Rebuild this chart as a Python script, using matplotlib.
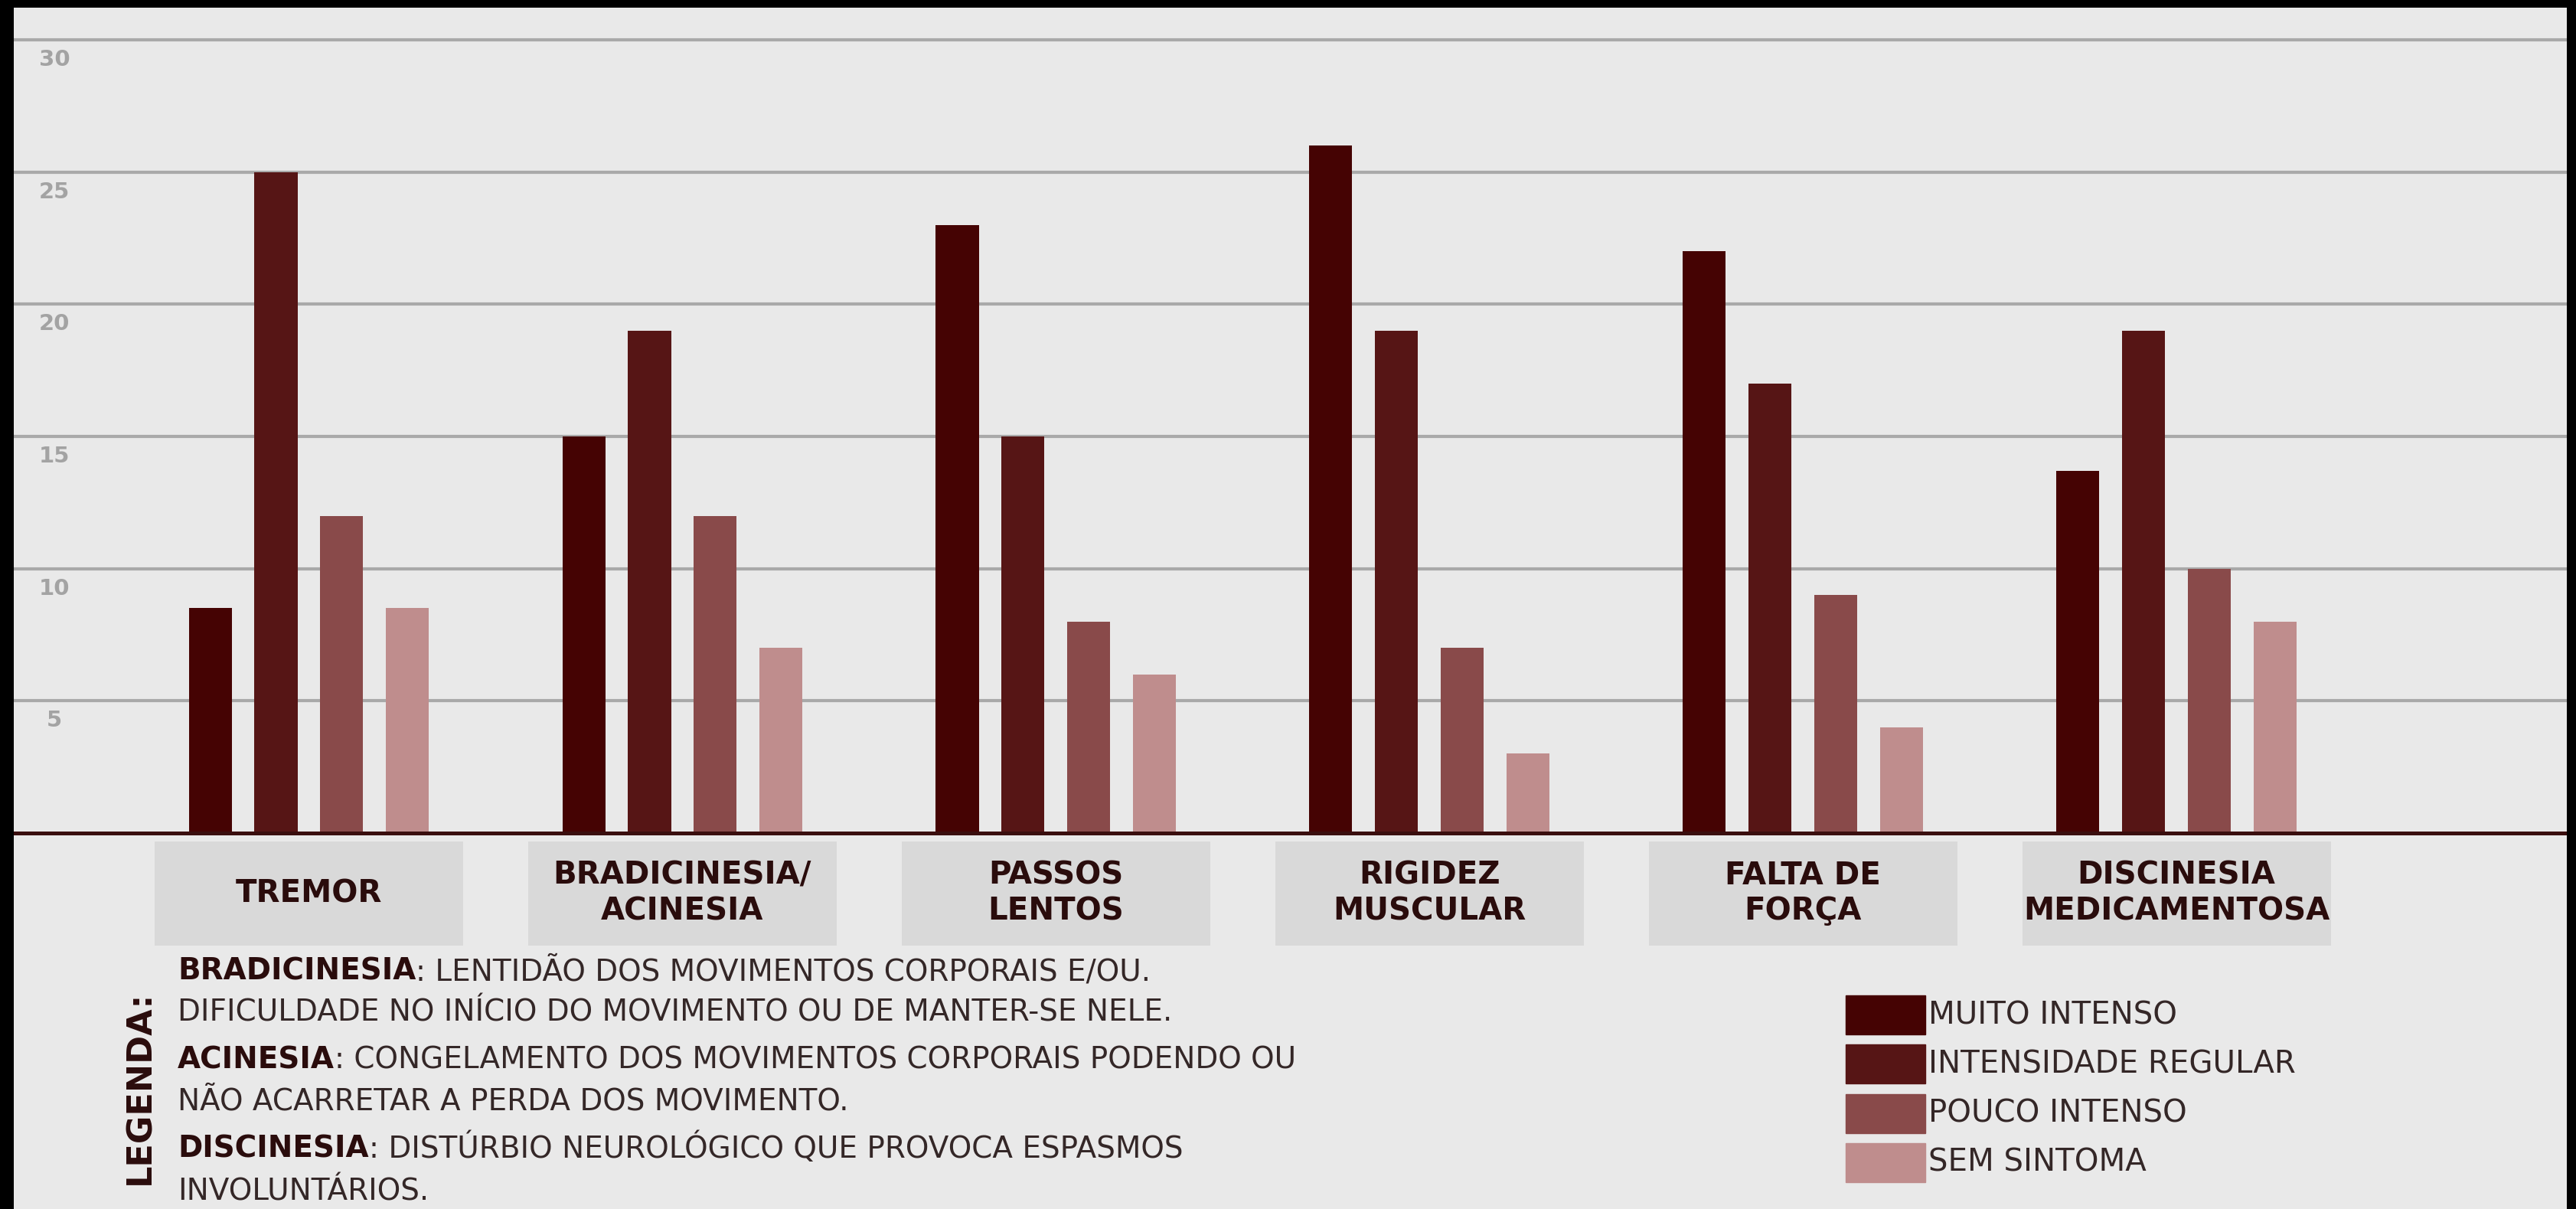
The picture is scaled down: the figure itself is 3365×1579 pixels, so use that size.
import numpy as np
import matplotlib.pyplot as plt
from matplotlib.patches import Rectangle

# dados
categorias = ['TREMOR', 'BRADICINESIA/\nACINESIA', 'PASSOS\nLENTOS',
              'RIGIDEZ\nMUSCULAR', 'FALTA DE\nFORÇA', 'DISCINESIA\nMEDICAMENTOSA']
muito_intenso = [8.5, 15, 23, 26, 22, 13.7]
intensidade_regular = [25, 19, 15, 19, 17, 19]
pouco_intenso = [12, 12, 8, 7, 9, 10]
sem_sintoma = [8.5, 7, 6, 3, 4, 8]
series = ['MUITO INTENSO', 'INTENSIDADE REGULAR', 'POUCO INTENSO', 'SEM SINTOMA']
yticks = [5, 10, 15, 20, 25, 30]

definicoes = [('BRADICINESIA', ': LENTIDÃO DOS MOVIMENTOS CORPORAIS E/OU.'),
              ('', 'DIFICULDADE NO INÍCIO DO MOVIMENTO OU DE MANTER-SE NELE.'),
              ('ACINESIA', ': CONGELAMENTO DOS MOVIMENTOS CORPORAIS PODENDO OU'),
              ('', 'NÃO ACARRETAR A PERDA DOS MOVIMENTO.'),
              ('DISCINESIA', ': DISTÚRBIO NEUROLÓGICO QUE PROVOCA ESPASMOS'),
              ('', 'INVOLUNTÁRIOS.')]

cores = ['#450303', '#561515', '#894a4a', '#bf8d8d']
escuro = '#2a0c0c'
texto = '#342727'

W, H = 3365, 1579
fx = lambda x: x / W
fy = lambda y: 1 - y / H

fig = plt.figure(figsize=(W / 100, H / 100), dpi=100, facecolor='black')
ax = fig.add_axes([fx(18), 0, (3353 - 18) / W, (H - 10) / H])
ax.set_facecolor('#e9e9e9')
for s in ax.spines.values():
    s.set_visible(False)
ax.set_xticks([])
ax.set_yticks([])

unit = 34.53  # pixels por unidade
ax.set_xlim(-0.79, 6.045)
ax.set_ylim((1088 - H) / unit, (1088 - 10) / unit)

x = np.arange(len(categorias))
valores = [muito_intenso, intensidade_regular, pouco_intenso, sem_sintoma]
offs = (np.arange(4) - 1.5) * 0.176
for i, vals in enumerate(valores):
    ax.bar(x + offs[i], vals, width=0.115, color=cores[i], zorder=3)

for v in yticks:
    ax.axhline(v, color='#a9a9a9', lw=3, zorder=1)
    ax.annotate(str(v), xy=(71, v), xycoords=('figure pixels', 'data'),
                xytext=(0, -12), textcoords='offset pixels', ha='center', va='top',
                color='#a3a3a3', weight='bold', size=21)
ax.axhline(0, color='#3a0e0e', lw=3.6, zorder=4)

# caixas das categorias
ax.bar(x, 3.94, bottom=-4.26, width=0.826, color='#d9d9d9', zorder=2)
for xi, lab in zip(x, categorias):
    longo = max(len(l) for l in lab.split('\n')) > 13
    ax.text(xi, -2.29, lab, ha='center', va='center', multialignment='center',
            weight='bold', size=24 if longo else 29, linespacing=1.2,
            color=escuro, zorder=5)

# legenda textual
fig.text(fx(183), fy(1420), 'LEGENDA:', rotation=90, ha='center', va='center',
         weight='bold', size=32, color=escuro)
bases = [1280, 1333, 1395, 1450, 1512, 1567]
for (neg, resto), b in zip(definicoes, bases):
    if neg:
        t = fig.text(fx(232), fy(b), neg, weight='bold', size=28, color=escuro,
                     va='baseline')
        ax.annotate(resto, xy=(1, 0), xycoords=t, va='bottom', ha='left',
                    size=28, color=texto)
    else:
        fig.text(fx(232), fy(b), resto, size=28, color=texto, va='baseline')

# legenda de cores
for i, nome in enumerate(series):
    topo = 1300 + i * 64.3
    fig.add_artist(Rectangle((fx(2411), fy(topo + 51)), 104 / W, 51 / H,
                             transform=fig.transFigure, color=cores[i]))
    fig.text(fx(2519), fy(topo + 26), nome, va='center', ha='left',
             size=29, color=texto)

fig.savefig('out.png', dpi=100, facecolor=fig.get_facecolor())
